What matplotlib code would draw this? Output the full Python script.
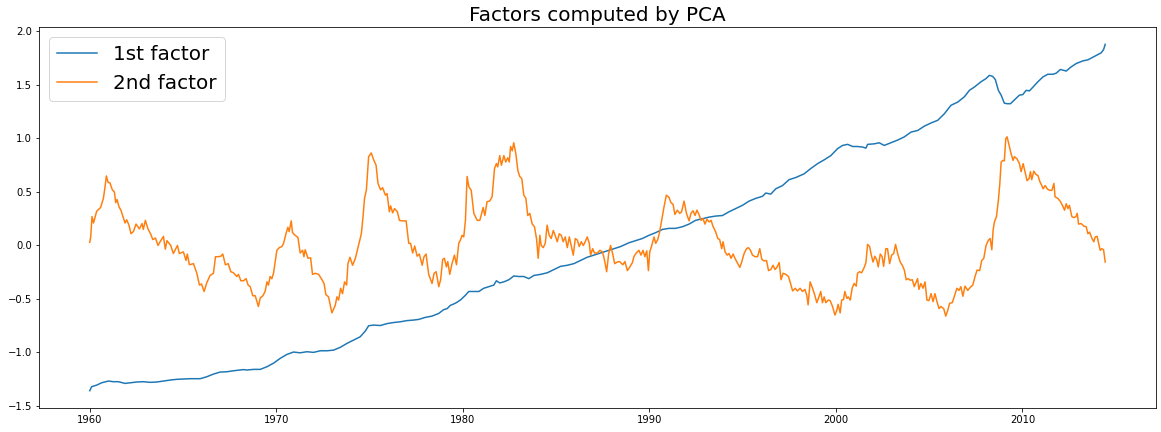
import matplotlib
matplotlib.use("Agg")
import matplotlib.pyplot as plt

# ---- data ----
f1_years = [1960.00, 1960.10, 1960.37, 1960.64, 1961.00, 1961.26, 1961.53, 1961.89, 1962.16, 1962.52,
            1962.87, 1963.23, 1963.59, 1963.95, 1964.30, 1964.66, 1965.02, 1965.38, 1965.74, 1965.92,
            1966.27, 1966.63, 1966.99, 1967.35, 1967.70, 1968.06, 1968.24, 1968.42, 1968.78, 1969.14,
            1969.50, 1969.85, 1970.21, 1970.57, 1970.92, 1971.28, 1971.64, 1972.00, 1972.36, 1972.72,
            1973.07, 1973.43, 1973.79, 1974.14, 1974.50, 1974.77, 1974.95, 1975.22, 1975.58, 1975.94,
            1976.29, 1976.65, 1977.01, 1977.36, 1977.63, 1977.99, 1978.35, 1978.71, 1978.97, 1979.16,
            1979.33, 1979.60, 1979.87, 1980.14, 1980.32, 1980.59, 1980.86, 1981.12, 1981.39, 1981.66,
            1981.80, 1981.98, 1982.20, 1982.47, 1982.73, 1983.00, 1983.27, 1983.54, 1983.81, 1984.17,
            1984.53, 1984.88, 1985.24, 1985.60, 1985.95, 1986.31, 1986.67, 1987.03, 1987.39, 1987.75,
            1988.10, 1988.46, 1988.90, 1989.26, 1989.62, 1989.98, 1990.34, 1990.70, 1991.05, 1991.41,
            1991.77, 1992.13, 1992.48, 1992.84, 1993.20, 1993.56, 1993.92, 1994.27, 1994.63, 1994.99,
            1995.35, 1995.70, 1996.07, 1996.24, 1996.51, 1996.78, 1997.14, 1997.49, 1997.85, 1998.30,
            1998.66, 1999.02, 1999.37, 1999.73, 2000.09, 2000.36, 2000.63, 2000.90, 2001.16, 2001.43,
            2001.61, 2001.70, 2002.06, 2002.32, 2002.59, 2002.95, 2003.31, 2003.67, 2004.03, 2004.39,
            2004.74, 2005.10, 2005.46, 2005.81, 2006.17, 2006.53, 2006.89, 2007.16, 2007.42, 2007.78,
            2008.05, 2008.23, 2008.41, 2008.55, 2008.71, 2008.86, 2009.03, 2009.18, 2009.36, 2009.57,
            2009.84, 2010.02, 2010.20, 2010.38, 2010.64, 2010.83, 2011.10, 2011.36, 2011.63, 2011.81,
            2012.04, 2012.35, 2012.58, 2012.88, 2013.24, 2013.51, 2013.78, 2014.05, 2014.22, 2014.35,
            2014.44]
f1_values = [-1.357, -1.32, -1.305, -1.283, -1.267, -1.273, -1.273, -1.289, -1.283, -1.276,
             -1.273, -1.279, -1.276, -1.267, -1.258, -1.251, -1.248, -1.245, -1.245, -1.245,
             -1.227, -1.202, -1.183, -1.18, -1.171, -1.164, -1.16, -1.164, -1.158, -1.158,
             -1.133, -1.10, -1.055, -1.018, -0.996, -1.003, -0.993, -0.999, -0.984, -0.984,
             -0.978, -0.952, -0.915, -0.884, -0.853, -0.80, -0.75, -0.744, -0.748, -0.73,
             -0.72, -0.713, -0.702, -0.697, -0.691, -0.672, -0.66, -0.635, -0.60, -0.59,
             -0.56, -0.54, -0.51, -0.465, -0.43, -0.43, -0.43, -0.40, -0.385, -0.37,
             -0.33, -0.35, -0.34, -0.32, -0.285, -0.29, -0.29, -0.31, -0.28, -0.27,
             -0.255, -0.225, -0.195, -0.185, -0.17, -0.14, -0.11, -0.09, -0.07, -0.05,
             -0.03, -0.01, 0.025, 0.045, 0.065, 0.095, 0.12, 0.15, 0.16, 0.16,
             0.175, 0.20, 0.235, 0.25, 0.265, 0.275, 0.28, 0.315, 0.345, 0.375,
             0.415, 0.44, 0.46, 0.49, 0.48, 0.53, 0.56, 0.615, 0.635, 0.67,
             0.72, 0.765, 0.80, 0.84, 0.905, 0.935, 0.945, 0.925, 0.925, 0.92,
             0.91, 0.945, 0.95, 0.96, 0.935, 0.96, 0.985, 1.015, 1.06, 1.075,
             1.115, 1.145, 1.17, 1.23, 1.31, 1.34, 1.39, 1.45, 1.48, 1.53,
             1.56, 1.59, 1.58, 1.55, 1.45, 1.405, 1.33, 1.325, 1.325, 1.36,
             1.405, 1.41, 1.45, 1.445, 1.495, 1.53, 1.575, 1.60, 1.60, 1.61,
             1.645, 1.63, 1.665, 1.70, 1.725, 1.735, 1.76, 1.785, 1.80, 1.83,
             1.88]

f2_years = [1960.00, 1960.05, 1960.12, 1960.20, 1960.37, 1960.58, 1960.73, 1960.82, 1960.89, 1960.98,
            1961.08, 1961.21, 1961.32, 1961.39, 1961.46, 1961.57, 1961.67, 1961.89, 1961.98, 1962.10,
            1962.21, 1962.34, 1962.48, 1962.66, 1962.80, 1962.87, 1962.98, 1963.11, 1963.27, 1963.38,
            1963.52, 1963.66, 1963.77, 1963.95, 1964.05, 1964.14, 1964.34, 1964.48, 1964.70, 1964.80,
            1965.02, 1965.16, 1965.23, 1965.34, 1965.56, 1965.74, 1965.88, 1965.99, 1966.13, 1966.27,
            1966.45, 1966.63, 1966.74, 1966.90, 1967.03, 1967.13, 1967.27, 1967.42, 1967.56, 1967.70,
            1967.88, 1967.97, 1968.10, 1968.24, 1968.38, 1968.49, 1968.60, 1968.74, 1968.87, 1969.04,
            1969.14, 1969.28, 1969.40, 1969.50, 1969.58, 1969.67, 1969.76, 1969.85, 1970.03, 1970.16,
            1970.30, 1970.39, 1970.52, 1970.62, 1970.69, 1970.80, 1970.87, 1971.01, 1971.16, 1971.28,
            1971.41, 1971.48, 1971.55, 1971.70, 1971.84, 1971.94, 1972.09, 1972.27, 1972.45, 1972.56,
            1972.66, 1972.80, 1972.98, 1973.16, 1973.25, 1973.34, 1973.45, 1973.55, 1973.66, 1973.77,
            1973.84, 1973.95, 1974.09, 1974.24, 1974.41, 1974.56, 1974.65, 1974.73, 1974.83, 1974.95,
            1975.09, 1975.22, 1975.35, 1975.45, 1975.59, 1975.70, 1975.85, 1975.94, 1976.06, 1976.13,
            1976.24, 1976.34, 1976.49, 1976.60, 1976.74, 1976.96, 1977.10, 1977.20, 1977.31, 1977.42,
            1977.55, 1977.67, 1977.82, 1977.92, 1978.03, 1978.17, 1978.35, 1978.46, 1978.57, 1978.71,
            1978.81, 1978.92, 1979.01, 1979.12, 1979.19, 1979.30, 1979.42, 1979.55, 1979.66, 1979.78,
            1979.87, 1979.96, 1980.05, 1980.14, 1980.23, 1980.32, 1980.45, 1980.59, 1980.77, 1980.91,
            1980.98, 1981.09, 1981.18, 1981.30, 1981.44, 1981.57, 1981.70, 1981.80, 1981.87, 1981.98,
            1982.07, 1982.20, 1982.30, 1982.41, 1982.49, 1982.56, 1982.65, 1982.73, 1982.84, 1982.95,
            1983.05, 1983.16, 1983.27, 1983.38, 1983.48, 1983.59, 1983.72, 1983.84, 1983.95, 1984.04,
            1984.13, 1984.20, 1984.31, 1984.42, 1984.52, 1984.63, 1984.74, 1984.85, 1984.95, 1985.06,
            1985.17, 1985.28, 1985.38, 1985.49, 1985.60, 1985.71, 1985.81, 1985.92, 1986.03, 1986.14,
            1986.24, 1986.35, 1986.46, 1986.56, 1986.67, 1986.78, 1986.85, 1986.96, 1987.06, 1987.21,
            1987.35, 1987.49, 1987.60, 1987.71, 1987.82, 1987.92, 1988.03, 1988.14, 1988.28, 1988.40,
            1988.58, 1988.69, 1988.82, 1988.94, 1989.09, 1989.17, 1989.30, 1989.44, 1989.55, 1989.66,
            1989.76, 1989.86, 1989.95, 1990.02, 1990.12, 1990.25, 1990.34, 1990.45, 1990.55, 1990.66,
            1990.78, 1990.91, 1991.05, 1991.16, 1991.27, 1991.37, 1991.50, 1991.63, 1991.73, 1991.86,
            1991.99, 1992.13, 1992.23, 1992.34, 1992.45, 1992.55, 1992.66, 1992.77, 1992.88, 1992.98,
            1993.09, 1993.20, 1993.31, 1993.41, 1993.56, 1993.67, 1993.77, 1993.88, 1993.95, 1994.06,
            1994.17, 1994.27, 1994.38, 1994.49, 1994.59, 1994.74, 1994.85, 1994.95, 1995.08, 1995.21,
            1995.31, 1995.42, 1995.53, 1995.67, 1995.80, 1995.92, 1996.03, 1996.15, 1996.28, 1996.39,
            1996.51, 1996.63, 1996.74, 1996.85, 1996.96, 1997.06, 1997.17, 1997.32, 1997.46, 1997.57,
            1997.68, 1997.82, 1997.94, 1998.08, 1998.21, 1998.34, 1998.44, 1998.51, 1998.62, 1998.75,
            1998.87, 1998.98, 1999.10, 1999.19, 1999.28, 1999.37, 1999.46, 1999.59, 1999.69, 1999.82,
            1999.95, 2000.05, 2000.12, 2000.23, 2000.31, 2000.41, 2000.48, 2000.59, 2000.66, 2000.77,
            2000.87, 2000.98, 2001.09, 2001.16, 2001.27, 2001.38, 2001.52, 2001.61, 2001.70, 2001.81,
            2001.88, 2001.99, 2002.09, 2002.20, 2002.27, 2002.38, 2002.48, 2002.56, 2002.68, 2002.77,
            2002.88, 2002.99, 2003.10, 2003.20, 2003.31, 2003.45, 2003.56, 2003.67, 2003.77, 2003.88,
            2003.99, 2004.10, 2004.20, 2004.31, 2004.38, 2004.45, 2004.56, 2004.67, 2004.78, 2004.88,
            2004.99, 2005.10, 2005.21, 2005.31, 2005.42, 2005.53, 2005.63, 2005.78, 2005.89, 2006.00,
            2006.10, 2006.24, 2006.35, 2006.49, 2006.60, 2006.70, 2006.81, 2006.92, 2007.07, 2007.21,
            2007.34, 2007.46, 2007.57, 2007.71, 2007.82, 2007.93, 2008.05, 2008.18, 2008.27, 2008.36,
            2008.43, 2008.50, 2008.61, 2008.71, 2008.79, 2008.86, 2008.95, 2009.03, 2009.11, 2009.18,
            2009.29, 2009.39, 2009.50, 2009.57, 2009.71, 2009.84, 2009.93, 2010.04, 2010.14, 2010.25,
            2010.36, 2010.43, 2010.50, 2010.61, 2010.72, 2010.83, 2010.94, 2011.04, 2011.11, 2011.22,
            2011.33, 2011.45, 2011.58, 2011.69, 2011.75, 2011.90, 2012.04, 2012.17, 2012.26, 2012.35,
            2012.44, 2012.52, 2012.65, 2012.76, 2012.87, 2012.94, 2013.01, 2013.15, 2013.30, 2013.42,
            2013.51, 2013.60, 2013.73, 2013.83, 2013.90, 2014.01, 2014.08, 2014.17, 2014.26, 2014.35,
            2014.44]
f2_values = [0.03, 0.08, 0.27, 0.21, 0.32, 0.355, 0.44, 0.55, 0.65, 0.59,
             0.585, 0.52, 0.50, 0.40, 0.43, 0.36, 0.33, 0.21, 0.24, 0.19,
             0.11, 0.13, 0.20, 0.155, 0.205, 0.15, 0.235, 0.16, 0.105, 0.055,
             0.07, 0.00, 0.035, 0.085, -0.035, 0.045, 0.00, -0.075, 0.00, -0.075,
             -0.06, -0.14, -0.08, -0.18, -0.17, -0.26, -0.37, -0.36, -0.43, -0.35,
             -0.28, -0.26, -0.105, -0.105, -0.10, -0.08, -0.18, -0.17, -0.245, -0.255,
             -0.29, -0.27, -0.33, -0.33, -0.31, -0.37, -0.385, -0.47, -0.47, -0.57,
             -0.49, -0.47, -0.43, -0.34, -0.37, -0.29, -0.31, -0.26, -0.045, -0.02,
             -0.01, 0.02, 0.11, 0.17, 0.13, 0.23, 0.12, 0.095, 0.075, -0.07,
             -0.045, -0.105, -0.04, -0.12, -0.115, -0.27, -0.26, -0.27, -0.32, -0.355,
             -0.46, -0.48, -0.63, -0.56, -0.48, -0.51, -0.40, -0.45, -0.34, -0.37,
             -0.17, -0.11, -0.185, -0.12, 0.00, 0.11, 0.27, 0.44, 0.52, 0.83,
             0.865, 0.80, 0.75, 0.58, 0.52, 0.54, 0.47, 0.485, 0.315, 0.37,
             0.305, 0.345, 0.315, 0.235, 0.23, 0.23, 0.02, 0.02, -0.07, -0.005,
             -0.10, -0.08, -0.185, -0.105, -0.08, -0.27, -0.355, -0.26, -0.245, -0.385,
             -0.32, -0.13, -0.12, -0.20, -0.15, -0.27, -0.17, -0.09, -0.18, 0.02,
             0.05, 0.095, 0.08, 0.235, 0.645, 0.55, 0.515, 0.30, 0.235, 0.235,
             0.28, 0.355, 0.28, 0.41, 0.415, 0.455, 0.72, 0.765, 0.735, 0.84,
             0.75, 0.84, 0.78, 0.82, 0.78, 0.925, 0.885, 0.96, 0.86, 0.70,
             0.645, 0.625, 0.47, 0.44, 0.28, 0.30, 0.20, 0.175, 0.065, -0.12,
             0.095, 0.00, -0.02, 0.02, 0.19, 0.095, 0.065, 0.14, 0.095, 0.035,
             0.11, 0.095, 0.035, 0.08, -0.02, 0.08, 0.00, -0.09, 0.065, 0.05,
             -0.01, 0.035, 0.00, 0.035, 0.08, 0.02, -0.09, -0.03, -0.07, -0.07,
             -0.045, -0.06, -0.14, -0.245, -0.075, 0.00, -0.075, -0.17, -0.155, -0.15,
             -0.18, -0.15, -0.235, -0.205, -0.16, -0.105, -0.07, -0.045, -0.09, -0.045,
             -0.105, -0.05, -0.235, -0.06, -0.005, 0.08, 0.02, 0.055, 0.125, 0.235,
             0.355, 0.47, 0.45, 0.40, 0.385, 0.29, 0.33, 0.30, 0.315, 0.415,
             0.30, 0.23, 0.30, 0.325, 0.28, 0.33, 0.29, 0.235, 0.25, 0.20,
             0.245, 0.22, 0.235, 0.18, 0.125, 0.065, 0.055, -0.03, 0.035, -0.06,
             -0.09, -0.075, -0.12, -0.08, -0.12, -0.17, -0.205, -0.155, -0.075, -0.03,
             -0.02, -0.045, -0.09, -0.105, -0.105, -0.03, -0.13, -0.145, -0.14, -0.235,
             -0.225, -0.185, -0.225, -0.20, -0.16, -0.32, -0.26, -0.27, -0.29, -0.355,
             -0.425, -0.40, -0.425, -0.40, -0.43, -0.41, -0.465, -0.555, -0.34, -0.40,
             -0.465, -0.535, -0.475, -0.43, -0.535, -0.48, -0.535, -0.51, -0.515, -0.57,
             -0.65, -0.605, -0.55, -0.63, -0.51, -0.505, -0.43, -0.495, -0.48, -0.51,
             -0.40, -0.355, -0.38, -0.26, -0.245, -0.255, -0.205, -0.16, 0.01, -0.01,
             -0.075, -0.155, -0.10, -0.14, -0.20, -0.08, -0.105, -0.195, -0.03, -0.03,
             -0.17, -0.09, -0.075, 0.01, -0.075, -0.155, -0.185, -0.23, -0.32, -0.31,
             -0.325, -0.32, -0.385, -0.34, -0.31, -0.41, -0.355, -0.40, -0.34, -0.51,
             -0.515, -0.45, -0.525, -0.45, -0.525, -0.59, -0.57, -0.59, -0.66, -0.605,
             -0.54, -0.535, -0.475, -0.40, -0.42, -0.385, -0.475, -0.38, -0.42, -0.39,
             -0.37, -0.29, -0.23, -0.235, -0.14, -0.12, 0.00, 0.05, 0.065, -0.04,
             0.145, 0.22, 0.27, 0.42, 0.58, 0.78, 0.795, 0.79, 1.0, 1.015,
             0.935, 0.86, 0.795, 0.83, 0.81, 0.765, 0.69, 0.765, 0.69, 0.605,
             0.625, 0.69, 0.615, 0.695, 0.665, 0.655, 0.595, 0.56, 0.53, 0.56,
             0.53, 0.515, 0.515, 0.58, 0.455, 0.44, 0.41, 0.365, 0.33, 0.39,
             0.345, 0.375, 0.27, 0.26, 0.27, 0.30, 0.20, 0.205, 0.18, 0.175,
             0.11, 0.125, 0.065, 0.035, 0.08, 0.085, 0.025, -0.045, -0.03, -0.04,
             -0.155]

series_labels = ["1st factor", "2nd factor"]
title = "Factors computed by PCA"
year_ticks = [1960, 1970, 1980, 1990, 2000, 2010]

# ---- figure ----
W, H, DPI = 1161, 432, 72
fig = plt.figure(figsize=(W / DPI, H / DPI), dpi=DPI)
ax = fig.add_axes([39 / W, (H - 408) / H, 1117 / W, 381 / H])

ax.plot(f1_years, f1_values, color="#1f77b4", lw=1.5, label=series_labels[0])
ax.plot(f2_years, f2_values, color="#ff7f0e", lw=1.5, label=series_labels[1])

ax.set_xticks(year_ticks)
ax.set_xticklabels([str(y) for y in year_ticks])
ax.tick_params(labelsize=10)
ax.set_title(title, fontsize=20)
ax.legend(loc="upper left", fontsize=20)

fig.savefig("out.png", dpi=DPI)
